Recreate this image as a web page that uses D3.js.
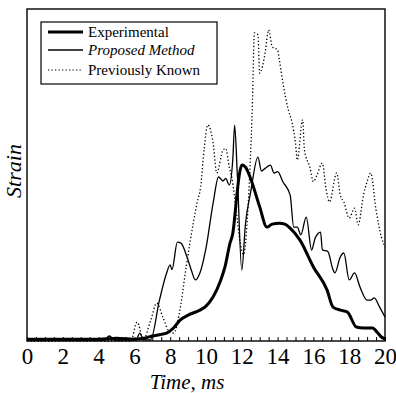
<!DOCTYPE html>
<html>
<head>
<meta charset="utf-8">
<script src="https://cdn.jsdelivr.net/npm/d3@7"></script>
<style>
  body { margin: 0; background: #fff; }
  text { font-family: "Liberation Serif", "DejaVu Serif", serif; fill: #000; }
</style>
</head>
<body>
<div id="viz"></div>
<script>
// time (ms) and strain (normalised, 0-100)
var expT = [0, 2, 4, 5, 6, 6.5, 7, 7.5, 7.8, 8.2, 8.55, 9.0, 9.66, 10.0, 10.4, 10.8, 11.06, 11.34, 11.5, 11.7, 11.85, 12.0, 12.2, 12.46, 13.0, 13.4, 13.7, 14.1, 14.4, 14.7, 15.25, 16.0, 16.76, 17.1, 17.5, 17.9, 18.4, 18.8, 19.3, 19.6, 19.8, 20];
var expV = [0.5, 0.5, 0.5, 0.8, 0.5, 0.8, 1.5, 2, 2.4, 4, 6.3, 7.8, 9.3, 10.5, 13.3, 18, 22.3, 29.5, 32.5, 42.5, 49.7, 53, 52.4, 49.4, 40.4, 34.3, 35.2, 35.5, 35.2, 34, 30.4, 22.3, 15.4, 10.2, 9.3, 8.7, 4.2, 3.9, 3.9, 2.4, 1.2, 0.6];

var propT = [0, 4.3, 4.6, 4.9, 6.1, 6.3, 6.5, 6.9, 7.4, 7.8, 8.0, 8.1, 8.4, 8.6, 8.94, 9.2, 9.4, 9.66, 10.0, 10.4, 10.7, 10.95, 11.1, 11.3, 11.5, 11.6, 11.75, 12.0, 12.2, 12.5, 12.9, 13.1, 13.3, 13.6, 13.8, 14.0, 14.3, 14.7, 14.9, 15.1, 15.3, 15.6, 15.9, 16.1, 16.4, 16.5, 16.8, 17.1, 17.2, 17.5, 17.7, 18.0, 18.3, 18.6, 19.0, 19.2, 19.4, 19.7, 20];
var propV = [0.3, 0.3, 1.5, 0.3, 0.3, 2.4, 0.5, 0.3, 12.3, 20.5, 22.9, 21.5, 29.8, 29.5, 25.3, 21, 18.4, 20.5, 28, 41.6, 49.4, 48.2, 49, 47, 55, 65, 50, 21.4, 35, 45, 55.4, 51.2, 52, 53, 50.6, 51, 47.9, 44, 34.3, 34.3, 32, 37.3, 27.4, 31, 32.8, 27.4, 27, 21.4, 20.5, 25.3, 26.5, 18.4, 20.5, 16.3, 12.3, 12.3, 13, 10.2, 7.2];

var prevT = [0, 5.8, 6.15, 6.5, 6.9, 7.25, 7.6, 8.0, 8.2, 8.5, 8.9, 9.1, 9.5, 9.7, 9.9, 10.1, 10.4, 10.6, 10.95, 11.1, 11.3, 11.45, 11.7, 11.9, 12.1, 12.3, 12.46, 12.6, 12.7, 12.9, 13.0, 13.3, 13.5, 13.7, 14.0, 14.1, 14.3, 14.6, 14.8, 15.0, 15.1, 15.4, 15.5, 15.8, 16.0, 16.2, 16.5, 16.7, 16.9, 17.3, 17.5, 17.7, 18.0, 18.3, 18.5, 18.8, 19.0, 19.2, 19.5, 19.8, 20];
var prevV = [0, 0, 5.7, 0.5, 6, 11.4, 7, 2.5, 2.4, 8, 22.6, 29.5, 41.6, 46.4, 58, 65.1, 59.6, 50.6, 57.5, 58, 52.4, 49, 38.6, 30, 26, 36, 52.4, 72.6, 92.8, 92.2, 80.7, 86.7, 93.7, 88.6, 87.7, 84.6, 77.7, 69.6, 66, 59.6, 54.5, 66.6, 57.5, 52.4, 48, 50, 53.6, 46, 41.9, 50.6, 44, 41.9, 37, 40, 35, 44, 48, 50.6, 39.5, 31.3, 28.3];

var xTickLabels = [0, 2, 4, 6, 8, 10, 12, 14, 16, 18, 20];
var legendNames = ["Experimental", "Proposed Method", "Previously Known"];

var w = 396, h = 393;
var plotL = 27, plotR = 385, plotT = 9, plotB = 341;

var svg = d3.select("#viz")
    .append("svg")
    .attr("width", w)
    .attr("height", h);

var x = d3.scaleLinear().domain([0, 20]).range([plotL, plotR]);
var y = d3.scaleLinear().domain([0, 100]).range([plotB, plotT]);

// frame
svg.append("rect")
    .attr("x", plotL).attr("y", plotT)
    .attr("width", plotR - plotL).attr("height", plotB - plotT)
    .attr("fill", "none").attr("stroke", "#000").attr("stroke-width", 1.4);

// inward ticks along bottom
var minor = d3.range(0, 20.01, 0.5);
svg.append("g")
    .attr("transform", "translate(0," + plotB + ")")
    .call(d3.axisBottom(x).tickValues(minor).tickSize(-4).tickFormat(""))
    .call(function(g){ g.select(".domain").remove(); });

// tick labels
svg.append("g")
    .attr("transform", "translate(0," + plotB + ")")
    .call(d3.axisBottom(x).tickValues(xTickLabels).tickSize(0).tickPadding(7).tickFormat(d3.format("d")))
    .call(function(g){
      g.select(".domain").remove();
      g.selectAll("text").attr("font-size", 23).attr("font-family", "Liberation Serif");
    });

function series(T, V){
  return T.map(function(t, i){ return [t, V[i]]; });
}

var line = d3.line()
    .x(function(d){ return x(d[0]); })
    .y(function(d){ return y(d[1]); })
    .curve(d3.curveMonotoneX);

svg.append("path")
    .datum(series(prevT, prevV))
    .attr("d", line)
    .attr("fill", "none").attr("stroke", "#000")
    .attr("stroke-width", 1.3).attr("stroke-dasharray", "1.3,2.2");

svg.append("path")
    .datum(series(propT, propV))
    .attr("d", line)
    .attr("fill", "none").attr("stroke", "#000")
    .attr("stroke-width", 1.3);

svg.append("path")
    .datum(series(expT, expV))
    .attr("d", line)
    .attr("fill", "none").attr("stroke", "#000")
    .attr("stroke-width", 3);

// legend
var lg = svg.append("g");
lg.append("rect")
    .attr("x", 41).attr("y", 22).attr("width", 176).attr("height", 62)
    .attr("fill", "#fff").attr("stroke", "#000").attr("stroke-width", 1.2);

var styles = [
  {sw: 3, dash: null, italic: false},
  {sw: 1.3, dash: null, italic: true},
  {sw: 1.2, dash: "1.3,2.2", italic: false}
];
var legendY = [32, 50, 70];

legendNames.forEach(function(name, i){
  lg.append("line")
      .attr("x1", 48).attr("x2", 83)
      .attr("y1", legendY[i]).attr("y2", legendY[i])
      .attr("stroke", "#000").attr("stroke-width", styles[i].sw)
      .attr("stroke-dasharray", styles[i].dash);
  lg.append("text")
      .attr("x", 88).attr("y", legendY[i] + 5)
      .attr("font-size", 15)
      .attr("font-style", styles[i].italic ? "italic" : "normal")
      .text(name);
});

// axis titles
svg.append("text")
    .attr("transform", "translate(21,171) rotate(-90)")
    .attr("text-anchor", "middle")
    .attr("font-size", 22).attr("font-style", "italic")
    .text("Strain");

svg.append("text")
    .attr("x", 187).attr("y", 389)
    .attr("text-anchor", "middle")
    .attr("font-size", 21).attr("font-style", "italic")
    .text("Time, ms");
</script>
</body>
</html>
